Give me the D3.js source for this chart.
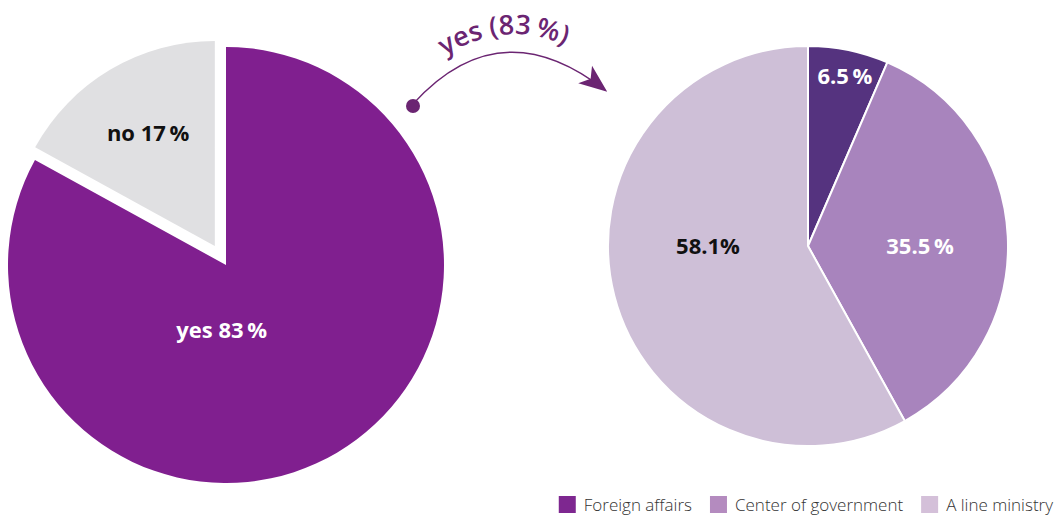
<!DOCTYPE html>
<meta charset="utf-8">
<style>
  body { margin: 0; background: #fff; }
  text { font-family: "Open Sans", sans-serif; }
</style>
<body>
<script src="https://d3js.org/d3.v7.min.js"></script>
<script>

// data
var answerLabels = ["yes", "no"];
var answerValues = [83, 17];
var answerText = ["yes 83\u2009%", "no 17\u2009%"];

var placeLabels = ["Foreign affairs", "Center of government", "A line ministry"];
var placeValues = [6.5, 35.5, 58.1];
var placeText = ["6.5\u2009%", "35.5\u2009%", "58.1%"];

var arrowText = "yes (83\u2009%)";

// colours
var answerColors = ["#801f8f", "#e0e0e2"];
var answerTextColors = ["#fff", "#111"];
var placeColors = ["#55337f", "#a884bd", "#cebfd7"];
var placeTextColors = ["#fff", "#fff", "#111"];
var legendColors = ["#7e2790", "#b48bbf", "#d4c0d9"];

var width = 1056, height = 522;

var svg = d3.select("body").append("svg")
    .attr("width", width)
    .attr("height", height);

var pie = d3.pie().sort(null).value(function(d) { return d; });

// ---- left pie (yes / no), "no" slice pulled out
var left = svg.append("g").attr("transform", "translate(226,265)");
var leftData = pie(answerValues);
var leftRadius = [218, 205];
var explode = [0, 22];

left.selectAll("path")
    .data(leftData)
  .enter().append("path")
    .attr("transform", function(d, i) {
      var a = (d.startAngle + d.endAngle) / 2;
      return "translate(" + (Math.sin(a) * explode[i]) + "," + (-Math.cos(a) * explode[i]) + ")";
    })
    .attr("d", function(d, i) {
      return d3.arc().innerRadius(0).outerRadius(leftRadius[i])(d);
    })
    .attr("fill", function(d, i) { return answerColors[i]; });

// label placement: radius from centre and angle nudge (radians)
var leftLabelR = [65, 153];
var leftLabelNudge = [0.6, 0];
left.selectAll("text")
    .data(leftData)
  .enter().append("text")
    .attr("x", function(d, i) {
      var a = (d.startAngle + d.endAngle) / 2 + leftLabelNudge[i];
      return Math.sin(a) * leftLabelR[i];
    })
    .attr("y", function(d, i) {
      var a = (d.startAngle + d.endAngle) / 2 + leftLabelNudge[i];
      return -Math.cos(a) * leftLabelR[i];
    })
    .attr("dy", "0.35em")
    .attr("text-anchor", "middle")
    .style("font-size", "22px")
    .style("font-weight", "bold")
    .attr("fill", function(d, i) { return answerTextColors[i]; })
    .text(function(d, i) { return answerText[i]; });

// ---- right pie (where)
var right = svg.append("g").attr("transform", "translate(808,246)");
var rightData = pie(placeValues);
var rightArc = d3.arc().innerRadius(0).outerRadius(200);

right.selectAll("path")
    .data(rightData)
  .enter().append("path")
    .attr("d", rightArc)
    .attr("fill", function(d, i) { return placeColors[i]; })
    .attr("stroke", "#fff")
    .attr("stroke-width", 2)
    .attr("stroke-linejoin", "round");

var rightLabelR = [174, 112, 100];
var rightLabelNudge = [0.01, 0.05, 0.25];
right.selectAll("text")
    .data(rightData)
  .enter().append("text")
    .attr("x", function(d, i) {
      var a = (d.startAngle + d.endAngle) / 2 + rightLabelNudge[i];
      return Math.sin(a) * rightLabelR[i];
    })
    .attr("y", function(d, i) {
      var a = (d.startAngle + d.endAngle) / 2 + rightLabelNudge[i];
      return -Math.cos(a) * rightLabelR[i];
    })
    .attr("dy", "0.35em")
    .attr("text-anchor", "middle")
    .style("font-size", "22px")
    .style("font-weight", "bold")
    .attr("fill", function(d, i) { return placeTextColors[i]; })
    .text(function(d, i) { return placeText[i]; });

// ---- curved arrow between the pies
var arrowColor = "#6b2572";
svg.append("defs").append("marker")
    .attr("id", "head")
    .attr("viewBox", "0 0 10 10")
    .attr("refX", 9)
    .attr("refY", 5)
    .attr("markerUnits", "userSpaceOnUse")
    .attr("markerWidth", 28)
    .attr("markerHeight", 28)
    .attr("orient", "auto")
  .append("path")
    .attr("d", "M0,1 L10,5 L0,9 L2.5,5 Z")
    .attr("fill", arrowColor);

svg.append("path")
    .attr("d", "M413,104 Q500,8 605,90")
    .attr("fill", "none")
    .attr("stroke", arrowColor)
    .attr("stroke-width", 1.3)
    .attr("marker-end", "url(#head)");

svg.append("circle")
    .attr("cx", 413)
    .attr("cy", 106)
    .attr("r", 7)
    .attr("fill", arrowColor);

svg.select("defs").append("path")
    .attr("id", "textArc")
    .attr("d", "M418,76 Q505,0 594,62");

svg.append("text")
    .attr("text-anchor", "middle")
    .style("font-size", "27px")
    .style("font-weight", "600")
    .attr("fill", arrowColor)
  .append("textPath")
    .attr("href", "#textArc")
    .attr("startOffset", "50%")
    .text(arrowText);

// ---- legend, right aligned
var legend = svg.append("g");
var x = 0;
var items = legend.selectAll("g")
    .data(placeLabels)
  .enter().append("g");

items.append("rect")
    .attr("width", 17)
    .attr("height", 17)
    .attr("y", -15)
    .attr("fill", function(d, i) { return legendColors[i]; });

items.append("text")
    .attr("x", 25)
    .style("font-size", "17px")
    .style("font-weight", "300")
    .attr("fill", "#333")
    .text(function(d) { return d; });

items.each(function() {
  var g = d3.select(this);
  g.attr("transform", "translate(" + x + ",0)");
  x += 25 + g.select("text").node().getComputedTextLength() + 18;
});
legend.attr("transform", "translate(" + (1053 - (x - 18)) + ",511)");

</script>
</body>
